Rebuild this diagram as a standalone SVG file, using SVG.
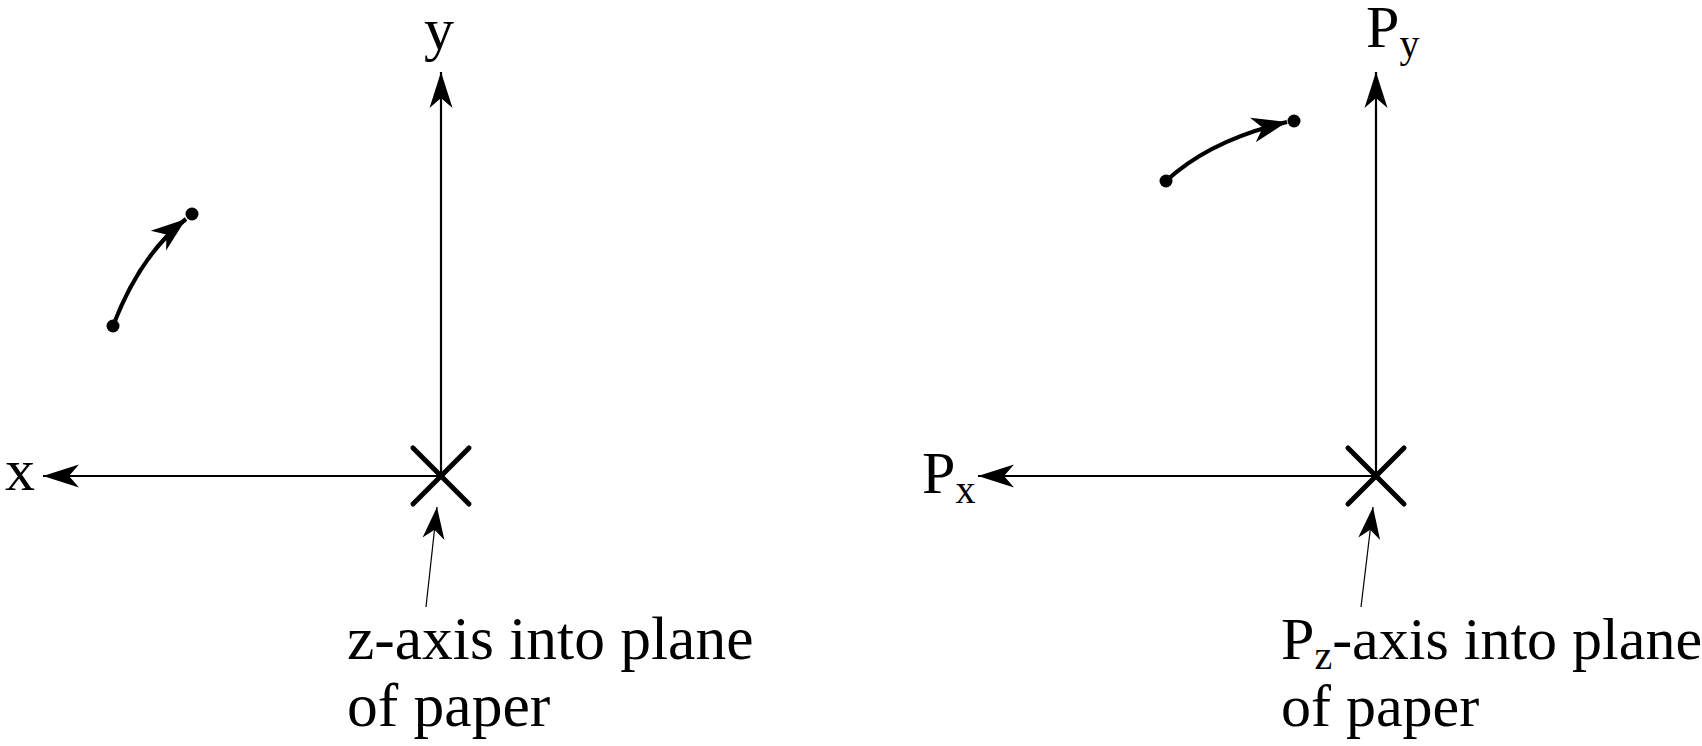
<svg xmlns="http://www.w3.org/2000/svg" width="1702" height="746" viewBox="0 0 1702 746">
<style>
text{font-family:"Liberation Serif","Times New Roman",serif;font-size:60px;fill:#000}
.sub{font-size:40px}
.big{font-size:61.5px}
.axis{stroke:#000;stroke-width:2.2;fill:none}
.cross{stroke:#000;stroke-width:5;stroke-linecap:round;fill:none}
.ptr{stroke:#000;stroke-width:1.2;fill:none}
.curve{stroke:#000;stroke-width:4.2;fill:none}
</style>
<defs>
<marker id="ah" markerUnits="userSpaceOnUse" markerWidth="40" markerHeight="30" viewBox="-38 -13 40 26" refX="0" refY="0" orient="auto">
<path d="M0,0 L-36,-11.5 L-26,0 L-36,11.5 Z" fill="#000"/>
</marker>
<marker id="ahp" markerUnits="userSpaceOnUse" markerWidth="36" markerHeight="28" viewBox="-34 -12 36 24" refX="0" refY="0" orient="auto">
<path d="M0,0 L-32,-11 L-23,0 L-32,11 Z" fill="#000"/>
</marker>
<marker id="ahc" markerUnits="userSpaceOnUse" markerWidth="40" markerHeight="30" viewBox="-38 -14 40 28" refX="0" refY="0" orient="auto">
<path d="M0,0 L-35,-12.5 L-25,0 L-35,12.5 Z" fill="#000"/>
</marker>
</defs>

<g id="connectors">
<line class="axis" x1="441" y1="476" x2="441" y2="72" marker-end="url(#ah)"/>
<line class="axis" x1="441" y1="476" x2="43" y2="476" marker-end="url(#ah)"/>
<line class="ptr" x1="426" y1="607" x2="437" y2="507" marker-end="url(#ahp)"/>
<path class="curve" d="M113,326 Q140,255 186,219" marker-end="url(#ahc)"/>
<line class="axis" x1="1376" y1="476" x2="1376" y2="72" marker-end="url(#ah)"/>
<line class="axis" x1="1376" y1="476" x2="978" y2="476" marker-end="url(#ah)"/>
<line class="ptr" x1="1361" y1="607" x2="1373" y2="507" marker-end="url(#ahp)"/>
<path class="curve" d="M1166,181 Q1210,140 1287,122" marker-end="url(#ahc)"/>
</g>

<g id="left-origin">
<line class="cross" x1="413" y1="448" x2="469" y2="504"/>
<line class="cross" x1="469" y1="448" x2="413" y2="504"/>
</g>
<g id="left-points">
<circle cx="113" cy="326" r="6.5"/>
<circle cx="192" cy="214" r="6.5"/>
</g>
<g id="left-labels">
<text x="424" y="49">y</text>
<text x="5" y="490">x</text>
<text class="big" x="347" y="659">z-axis into plane</text>
<text class="big" x="347" y="726">of paper</text>
</g>

<g id="right-origin">
<line class="cross" x1="1348" y1="448" x2="1404" y2="504"/>
<line class="cross" x1="1404" y1="448" x2="1348" y2="504"/>
</g>
<g id="right-points">
<circle cx="1166" cy="181" r="6.5"/>
<circle cx="1294" cy="121" r="6.5"/>
</g>
<g id="right-labels">
<text x="1366" y="47">P<tspan class="sub" dy="10">y</tspan></text>
<text x="922" y="493">P<tspan class="sub" dy="10">x</tspan></text>
<text x="1281" y="659">P<tspan class="sub" dy="10">z</tspan><tspan dy="-10">-axis into plane</tspan></text>
<text x="1281" y="726">of paper</text>
</g>
</svg>
